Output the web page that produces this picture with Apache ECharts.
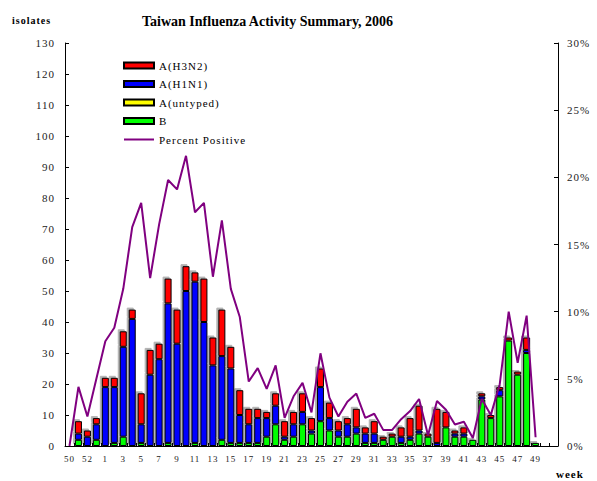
<!DOCTYPE html>
<html>
<head>
<meta charset="utf-8">
<script src="https://cdn.jsdelivr.net/npm/echarts@6/dist/echarts.min.js"></script>
<style>
html,body{margin:0;padding:0;background:#fff;}
#c{width:597px;height:481px;}
#c svg text{letter-spacing:1px;}
</style>
</head>
<body>
<div id="c"></div>
<script>
const weeks = ['50','51','52','53','1','2','3','4','5','6','7','8','9','10','11','12','13','14','15','16','17','18','19','20','21','22','23','24','25','26','27','28','29','30','31','32','33','34','35','36','37','38','39','40','41','42','43','44','45','46','47','48','49','50','51'];
const fluB   = [0,2,0,2, 0,1,3,0,1,0,0,1,0,0,1,0,0,2,1,1,1,1,3,7,2,3,7,4,8,5,3,3,4,1,1,2,3,1,2,4,3,0,6,3,3,2,15,9,16,34,23,30,1, null,null];
const untyped= [0,0,0,0, 0,0,0,0,0,0,0,0,0,0,0,0,0,0,0,0,0,0,0,0,0,0,0,0,0,0,0,0,0,0,0,0,0,0,0,0,0,0,0,0,0,0,0,0,0,0,0,0,0, null,null];
const h1n1   = [0,2,3,5, 19,18,29,41,6,23,28,45,33,50,52,40,26,27,24,9,6,8,6,6,1,4,4,1,11,4,2,4,2,3,3,0,0,2,1,1,0,1,0,1,1,0,1,0,2,0,0,1,0, null,null];
const h3n2   = [0,4,2,2, 3,3,5,3,10,8,5,8,11,8,3,14,9,15,7,8,5,3,2,4,5,4,6,4,6,5,3,2,6,2,4,1,1,3,6,8,1,11,5,1,2,0,1,1,1,1,1,4,0, null,null];
const pctPos = [0,4.4,2.2,5.0, 7.8,8.8,11.7,16.3,18.1,12.5,16.5,19.8,19.1,21.6,17.4,18.1,12.6,16.8,11.7,9.6,4.8,5.8,4.25,6.0,2.1,3.7,4.7,2.5,6.9,3.6,2.2,3.3,3.9,2.1,2.4,1.2,1.2,2.0,2.6,3.5,0.8,3.35,2.7,1.6,1.8,0.6,3.5,2.3,4.6,10.0,6.2,9.7,0.65, null,null];
const leftTicks = {min:0, max:130, interval:10};
const rightTicks = {min:0, max:30, interval:5};
const titleText = 'Taiwan Influenza Activity Summary, 2006';

const serif = "'Liberation Serif','Times New Roman',serif";
const nz = a => a.map(v => (v === 0 || v === null) ? '-' : v);
const barStyle = c => ({color:c, borderColor:'#000', borderWidth:1, shadowColor:'rgba(0,0,0,0.3)', shadowOffsetX:-2, shadowOffsetY:-2, shadowBlur:0});
function barSeries(name, data, color){
  return {name, type:'bar', stack:'iso', data:nz(data), barWidth:7, itemStyle:barStyle(color), emphasis:{disabled:true}};
}
const chart = echarts.init(document.getElementById('c'), null, {renderer:'svg'});
chart.setOption({
  animation:false,
  title:{text:titleText, left:137, top:9, textStyle:{fontFamily:serif, fontWeight:'bold', fontSize:14, color:'#000'}},
  graphic:[
    {type:'text', left:12, top:15, style:{text:'isolates', font:"bold 10px 'Liberation Serif',serif", fill:'#000'}},
    {type:'text', left:556, top:468, style:{text:'week', font:"bold 11px 'Liberation Serif',serif", fill:'#000'}}
  ],
  legend:{orient:'vertical', left:123, top:60, padding:0, itemWidth:30, itemHeight:6, itemGap:7.5,
    textStyle:{fontFamily:serif, fontSize:11, color:'#000'},
    data:[{name:'A(H3N2)', icon:'rect'},{name:'A(H1N1)', icon:'rect'},{name:'A(untyped)', icon:'rect'},{name:'B', icon:'rect'},
      {name:'Percent Positive', icon:'path://M0,0 L30,0 L30,2 L0,2 Z', itemStyle:{color:'#800080', borderWidth:0}}]},
  grid:{left:65, right:39, top:43, bottom:35},
  xAxis:{type:'category', data:weeks, boundaryGap:true,
    axisLine:{lineStyle:{color:'#000', width:1}},
    axisTick:{show:true, inside:true, length:3, interval:0, lineStyle:{color:'#000'}},
    axisLabel:{interval:(i)=> i%2===0 && i<=52, fontFamily:serif, fontSize:9, color:'#222', margin:8}},
  yAxis:[
    {type:'value', min:leftTicks.min, max:leftTicks.max, interval:leftTicks.interval,
      axisLine:{show:true, lineStyle:{color:'#000'}}, axisTick:{show:true, inside:true, length:4, lineStyle:{color:'#000'}},
      splitLine:{show:false}, axisLabel:{fontFamily:serif, fontSize:11, color:'#222', margin:10}},
    {type:'value', position:'right', min:rightTicks.min, max:rightTicks.max, interval:rightTicks.interval,
      axisLine:{show:true, lineStyle:{color:'#000'}}, axisTick:{show:true, inside:true, length:4, lineStyle:{color:'#000'}},
      splitLine:{show:false}, axisLabel:{formatter:'{value}%', fontFamily:serif, fontSize:11, color:'#222', margin:9}}
  ],
  series:[
    barSeries('B', fluB, '#00ff00'),
    barSeries('A(untyped)', untyped, '#ffff00'),
    barSeries('A(H1N1)', h1n1, '#0000ff'),
    barSeries('A(H3N2)', h3n2, '#ff0000'),
    {name:'Percent Positive', type:'line', yAxisIndex:1, data:pctPos, symbol:'none', z:5,
      lineStyle:{color:'#800080', width:2}, itemStyle:{color:'#800080'}, emphasis:{disabled:true}}
  ]
});
// title keeps normal spacing
document.querySelectorAll('#c svg text').forEach(t => {
  if (t.textContent === titleText) t.style.letterSpacing = '0px';
});
</script>
</body>
</html>
